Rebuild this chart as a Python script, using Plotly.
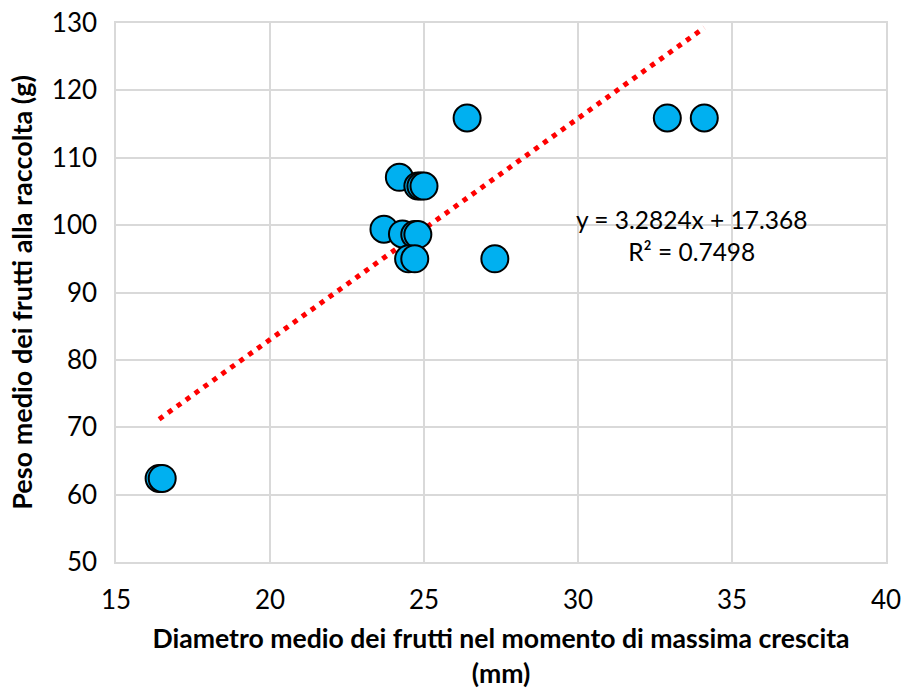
import plotly.graph_objects as go

# Diametro medio (mm) e peso medio (g) dei frutti
diametro = [16.4, 16.5, 24.2, 24.8, 24.9, 25.0, 23.7, 24.3, 24.7, 24.8,
            24.5, 24.7, 27.3, 26.4, 32.9, 34.1]
peso = [62.4, 62.4, 107.1, 105.8, 105.8, 105.8, 99.4, 98.7, 98.6, 98.6,
        95.0, 95.0, 95.0, 115.9, 115.9, 115.9]

# Linea di tendenza lineare (come riportata nel grafico)
slope = 3.2824
intercept = 17.368
r2 = 0.7498

x_ticks = [15, 20, 25, 30, 35, 40]
y_ticks = [50, 60, 70, 80, 90, 100, 110, 120, 130]

font_family = "Lato, Open Sans, sans-serif"
grid_color = "#D9D9D9"

x_fit = [min(diametro), max(diametro)]
y_fit = [slope * x + intercept for x in x_fit]

fig = go.Figure()

fig.add_trace(go.Scatter(
    x=x_fit, y=y_fit, mode="lines",
    line=dict(color="#FF0000", width=5, dash="5px,6px"),
    hoverinfo="skip", showlegend=False
))

fig.add_trace(go.Scatter(
    x=diametro, y=peso, mode="markers",
    marker=dict(size=27, color="#00B0F0", line=dict(color="#000000", width=2)),
    showlegend=False
))

fig.add_annotation(
    x=33.67, y=98.4, xref="x", yref="y",
    text=f"y = {slope}x + {intercept}<br>R² = {r2}",
    showarrow=False, align="center",
    font=dict(family=font_family, size=24.5, color="#000000")
)

fig.update_xaxes(
    range=[15, 40], tickvals=x_ticks,
    showgrid=True, gridcolor=grid_color, gridwidth=1.5,
    showline=True, linecolor=grid_color, linewidth=1.5, mirror=True,
    zeroline=False, ticks="", ticklabelstandoff=14, automargin=False,
    ticklabeloverflow="allow",
    tickfont=dict(family=font_family, size=26, color="#000000"),
    title=dict(text="<b>Diametro medio dei frutti nel momento di massima crescita<br>(mm)</b>",
               font=dict(family=font_family, size=26.6, color="#000000"), standoff=22)
)
fig.update_yaxes(
    range=[50, 130], tickvals=y_ticks,
    showgrid=True, gridcolor=grid_color, gridwidth=1.5,
    showline=True, linecolor=grid_color, linewidth=1.5, mirror=True,
    zeroline=False, ticks="", ticklabelstandoff=12, automargin=False,
    ticklabeloverflow="allow",
    tickfont=dict(family=font_family, size=26, color="#000000"),
    title=dict(text="<b>Peso medio dei frutti alla raccolta (g)</b>",
               font=dict(family=font_family, size=27, color="#000000"), standoff=11)
)

fig.update_layout(
    width=907, height=689,
    margin=dict(l=116, r=21, t=23, b=127),
    plot_bgcolor="#FFFFFF", paper_bgcolor="#FFFFFF",
    font=dict(family=font_family)
)

# niente margine del body, cosi' la figura occupa tutta la finestra
fig.write_html("out.html", config={"displayModeBar": False},
               post_script="document.body.style.margin='0';document.body.style.overflow='hidden';")
